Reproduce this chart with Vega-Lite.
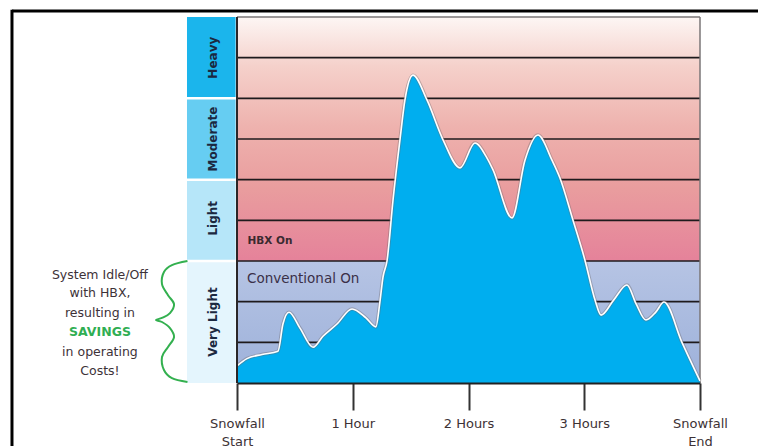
{
  "$schema": "https://vega.github.io/schema/vega-lite/v6.json",
  "width": 463,
  "height": 366,
  "autosize": {"type": "none"},
  "padding": {"left": 237, "top": 17, "right": 58, "bottom": 63},
  "background": "white",
  "config": {"view": {"stroke": null}, "font": "DejaVu Sans"},
  "encoding": {
    "x": {
      "field": "t",
      "type": "quantitative",
      "scale": {"domain": [0, 4], "nice": false, "zero": false},
      "axis": {
        "values": [0, 1, 2, 3, 4],
        "title": null,
        "grid": false,
        "domainColor": "#222222",
        "domainWidth": 2,
        "tickColor": "#333333",
        "tickWidth": 2,
        "tickSize": 27,
        "labelPadding": 7,
        "labelFontSize": 13,
        "labelColor": "#3d3235",
        "labelLineHeight": 18,
        "labelOverlap": false,
        "labelFlush": false,
        "labelBound": false,
        "zindex": 1,
        "labelExpr": "datum.value == 0 ? ['Snowfall', 'Start'] : datum.value == 4 ? ['Snowfall', 'End'] : datum.value == 1 ? '1 Hour' : datum.value + ' Hours'"
      }
    },
    "y": {
      "field": "v",
      "type": "quantitative",
      "scale": {"domain": [0, 9], "nice": false, "zero": false},
      "axis": null
    }
  },
  "layer": [
    {
      "data": {"values": [{"t": -1.944, "t2": 4.6, "v": 9.15}]},
      "mark": {"type": "rule", "color": "#000000", "strokeWidth": 3},
      "encoding": {"x2": {"field": "t2"}}
    },
    {
      "data": {"values": [{"t": -1.944, "v": 9.18, "v2": -1.7}]},
      "mark": {"type": "rule", "color": "#000000", "strokeWidth": 3},
      "encoding": {"y2": {"field": "v2"}}
    },
    {
      "data": {"values": [{"t": 0, "t2": 4, "v": 3, "v2": 9}]},
      "mark": {
        "type": "rect",
        "color": {
          "gradient": "linear",
          "x1": 0, "y1": 0, "x2": 0, "y2": 1,
          "stops": [
            {"offset": 0, "color": "#fdf6f4"},
            {"offset": 0.2, "color": "#f5d1cb"},
            {"offset": 0.45, "color": "#eeb2ae"},
            {"offset": 0.7, "color": "#e99d9e"},
            {"offset": 1, "color": "#e5829a"}
          ]
        }
      },
      "encoding": {"x2": {"field": "t2"}, "y2": {"field": "v2"}}
    },
    {
      "data": {"values": [{"t": 0, "t2": 4, "v": 0, "v2": 3}]},
      "mark": {
        "type": "rect",
        "color": {
          "gradient": "linear",
          "x1": 0, "y1": 0, "x2": 0, "y2": 1,
          "stops": [
            {"offset": 0, "color": "#b6c4e4"},
            {"offset": 1, "color": "#9db1da"}
          ]
        }
      },
      "encoding": {"x2": {"field": "t2"}, "y2": {"field": "v2"}}
    },
    {
      "data": {"values": [
        {"t": 0, "t2": 4, "v": 1}, {"t": 0, "t2": 4, "v": 2}, {"t": 0, "t2": 4, "v": 3},
        {"t": 0, "t2": 4, "v": 4}, {"t": 0, "t2": 4, "v": 5}, {"t": 0, "t2": 4, "v": 6},
        {"t": 0, "t2": 4, "v": 7}, {"t": 0, "t2": 4, "v": 8}
      ]},
      "mark": {"type": "rule", "color": "#1e1a1c", "strokeWidth": 1.6},
      "encoding": {"x2": {"field": "t2"}}
    },
    {
      "data": {"values": [{"t": 0, "t2": 4, "v": 9}]},
      "mark": {"type": "rule", "color": "#7a7677", "strokeWidth": 1.5},
      "encoding": {"x2": {"field": "t2"}}
    },
    {
      "data": {"values": [{"t": 4, "v": 0, "v2": 9}]},
      "mark": {"type": "rule", "color": "#7a7677", "strokeWidth": 1.5},
      "encoding": {"y2": {"field": "v2"}}
    },
    {
      "data": {"name": "snow", "values": [
        {"t": 0.0, "v": 0.42}, {"t": 0.086, "v": 0.6}, {"t": 0.216, "v": 0.7},
        {"t": 0.354, "v": 0.78}, {"t": 0.397, "v": 1.45}, {"t": 0.449, "v": 1.74},
        {"t": 0.544, "v": 1.35}, {"t": 0.657, "v": 0.88}, {"t": 0.743, "v": 1.15},
        {"t": 0.864, "v": 1.45}, {"t": 0.994, "v": 1.82}, {"t": 1.114, "v": 1.6},
        {"t": 1.2, "v": 1.38}, {"t": 1.235, "v": 2.0}, {"t": 1.261, "v": 2.6},
        {"t": 1.296, "v": 3.0}, {"t": 1.348, "v": 4.5}, {"t": 1.408, "v": 5.98},
        {"t": 1.451, "v": 6.96}, {"t": 1.52, "v": 7.57}, {"t": 1.641, "v": 6.96},
        {"t": 1.78, "v": 5.98}, {"t": 1.927, "v": 5.29}, {"t": 2.056, "v": 5.9},
        {"t": 2.16, "v": 5.53}, {"t": 2.212, "v": 5.24}, {"t": 2.376, "v": 4.06},
        {"t": 2.488, "v": 5.48}, {"t": 2.6, "v": 6.1}, {"t": 2.721, "v": 5.48},
        {"t": 2.79, "v": 5.04}, {"t": 2.903, "v": 4.0}, {"t": 3.006, "v": 3.02},
        {"t": 3.093, "v": 2.04}, {"t": 3.145, "v": 1.67}, {"t": 3.257, "v": 2.05},
        {"t": 3.369, "v": 2.41}, {"t": 3.447, "v": 1.95}, {"t": 3.533, "v": 1.55},
        {"t": 3.62, "v": 1.75}, {"t": 3.689, "v": 1.99}, {"t": 3.844, "v": 1.0},
        {"t": 4.0, "v": 0.05}
      ]},
      "layer": [
        {"mark": {"type": "area", "interpolate": "monotone", "color": "#00aeef"}, "encoding": {}},
        {"mark": {"type": "line", "interpolate": "monotone", "color": "#6e6a6e", "strokeWidth": 3.5, "opacity": 0.4}, "encoding": {}},
        {"mark": {"type": "line", "interpolate": "monotone", "color": "#ffffff", "strokeWidth": 1.6}, "encoding": {}}
      ]
    },
    {
      "data": {"values": [{"t": 0, "v": 0, "v2": 9}]},
      "mark": {"type": "rule", "color": "#2a2628", "strokeWidth": 2},
      "encoding": {"y2": {"field": "v2"}}
    },
    {
      "data": {"values": [
        {"band": "Very Light", "t": -0.432, "t2": -0.012, "v": 0, "v2": 2.97},
        {"band": "Light", "t": -0.432, "t2": -0.012, "v": 3.03, "v2": 4.97},
        {"band": "Moderate", "t": -0.432, "t2": -0.012, "v": 5.03, "v2": 6.97},
        {"band": "Heavy", "t": -0.432, "t2": -0.012, "v": 7.03, "v2": 9}
      ]},
      "mark": {"type": "rect"},
      "encoding": {
        "x2": {"field": "t2"},
        "y2": {"field": "v2"},
        "color": {
          "field": "band",
          "type": "nominal",
          "scale": {"domain": ["Very Light", "Light", "Moderate", "Heavy"], "range": ["#e4f5fd", "#b6e6f9", "#66cdf2", "#1bb5ec"]},
          "legend": null
        }
      }
    },
    {
      "data": {"values": [
        {"label": "Very Light", "t": -0.21, "v": 1.5},
        {"label": "Light", "t": -0.21, "v": 4.05},
        {"label": "Moderate", "t": -0.21, "v": 6.0},
        {"label": "Heavy", "t": -0.21, "v": 8.0}
      ]},
      "mark": {"type": "text", "angle": 270, "fontWeight": "bold", "fontSize": 12, "color": "#1b2840", "align": "center", "baseline": "middle"},
      "encoding": {"text": {"field": "label"}}
    },
    {
      "data": {"values": [{"label": "HBX On", "t": 0.09, "v": 3.48}]},
      "mark": {"type": "text", "fontWeight": "bold", "fontSize": 10.5, "color": "#3a2a30", "align": "left", "baseline": "middle"},
      "encoding": {"text": {"field": "label"}}
    },
    {
      "data": {"values": [{"label": "Conventional On", "t": 0.086, "v": 2.56}]},
      "mark": {"type": "text", "fontSize": 13.5, "color": "#3a3048", "align": "left", "baseline": "middle"},
      "encoding": {"text": {"field": "label"}}
    },
    {
      "data": {"values": [
        {"label": "System Idle/Off", "t": -1.184, "v": 2.66},
        {"label": "with HBX,", "t": -1.184, "v": 2.21},
        {"label": "resulting in", "t": -1.184, "v": 1.72},
        {"label": "in operating", "t": -1.184, "v": 0.76},
        {"label": "Costs!", "t": -1.184, "v": 0.29}
      ]},
      "mark": {"type": "text", "fontSize": 12.5, "color": "#3d3238", "align": "center", "baseline": "middle"},
      "encoding": {"text": {"field": "label"}}
    },
    {
      "data": {"values": [{"label": "SAVINGS", "t": -1.184, "v": 1.25}]},
      "mark": {"type": "text", "fontSize": 12.5, "fontWeight": "bold", "color": "#2fae52", "align": "center", "baseline": "middle"},
      "encoding": {"text": {"field": "label"}}
    },
    {
      "data": {"values": [
        {"o": 1, "t": -0.428, "v": 3.0},
        {"o": 2, "t": -0.562, "v": 2.9},
        {"o": 3, "t": -0.631, "v": 2.73},
        {"o": 4, "t": -0.648, "v": 2.43},
        {"o": 5, "t": -0.596, "v": 2.16},
        {"o": 6, "t": -0.544, "v": 1.94},
        {"o": 7, "t": -0.579, "v": 1.72},
        {"o": 8, "t": -0.648, "v": 1.6},
        {"o": 9, "t": -0.7, "v": 1.55},
        {"o": 10, "t": -0.648, "v": 1.5},
        {"o": 11, "t": -0.579, "v": 1.35},
        {"o": 12, "t": -0.544, "v": 1.13},
        {"o": 13, "t": -0.596, "v": 0.885},
        {"o": 14, "t": -0.648, "v": 0.64},
        {"o": 15, "t": -0.631, "v": 0.32},
        {"o": 16, "t": -0.562, "v": 0.12},
        {"o": 17, "t": -0.428, "v": 0.025}
      ]},
      "mark": {"type": "line", "interpolate": "cardinal", "color": "#33b04f", "strokeWidth": 2},
      "encoding": {"order": {"field": "o", "type": "quantitative"}}
    }
  ]
}
